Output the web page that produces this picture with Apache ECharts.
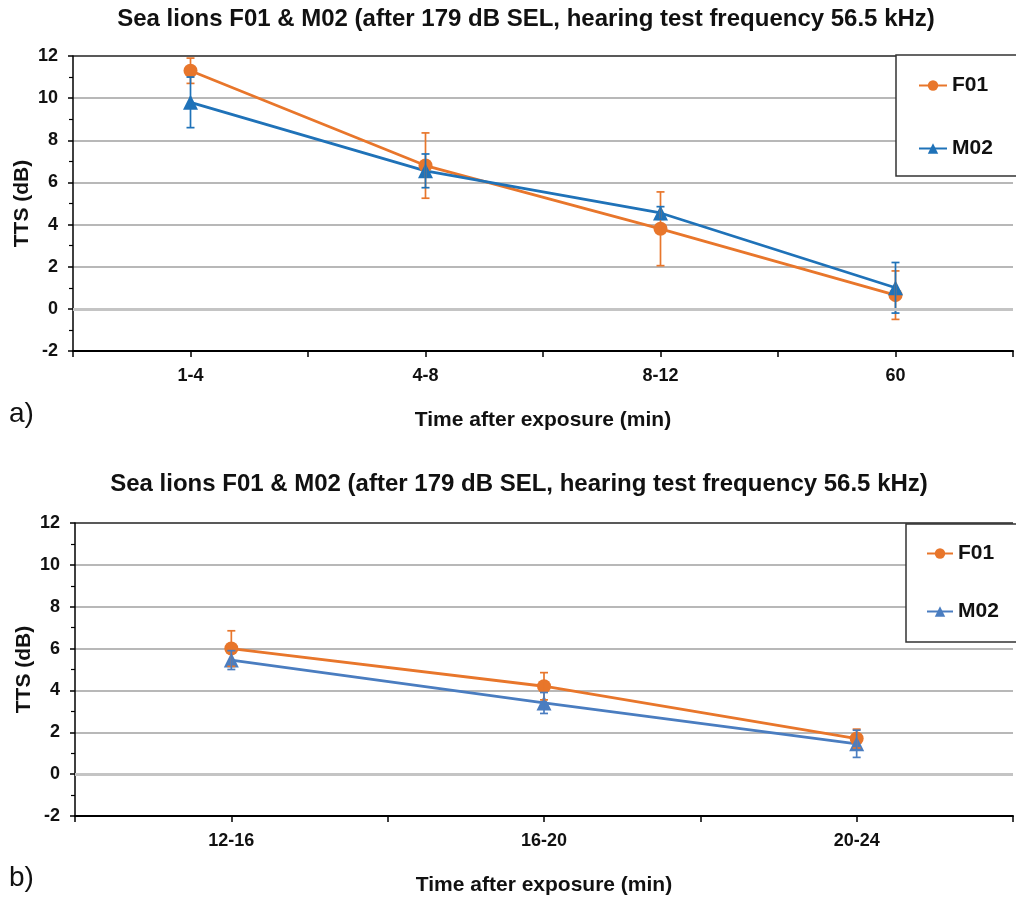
<!DOCTYPE html>
<html>
<head>
<meta charset="utf-8">
<script src="https://cdn.jsdelivr.net/npm/echarts@6/dist/echarts.min.js"></script>
<style>
  html, body { margin: 0; padding: 0; background: #fff; }
  #chart { width: 1016px; height: 897px; }
</style>
</head>
<body>
<div id="chart"></div>
<script>
// panel a
var catsA = ['1-4', '4-8', '8-12', '60'];
var f01A = [11.3, 6.8, 3.8, 0.65];
var f01ErrA = [0.6, 1.55, 1.75, 1.15];
var m02A = [9.8, 6.55, 4.55, 1.0];
var m02ErrA = [1.2, 0.8, 0.3, 1.2];
// panel b
var catsB = ['12-16', '16-20', '20-24'];
var f01B = [6.0, 4.2, 1.7];
var f01ErrB = [0.85, 0.65, 0.45];
var m02B = [5.45, 3.4, 1.45];
var m02ErrB = [0.45, 0.5, 0.65];
var yTicks = [-2, 0, 2, 4, 6, 8, 10, 12];

var orange = '#E8762B';
var blueA = '#1F72B8';
var blueB = '#4A7DC0';
var font = 'Liberation Sans, Arial, sans-serif';
var title = 'Sea lions F01 & M02 (after 179 dB SEL, hearing test frequency 56.5 kHz)';

var chart = echarts.init(document.getElementById('chart'));

function pts(vals) {
  return vals.map(function (v, i) { return [i + 0.5, v]; });
}
function errs(vals, e) {
  return vals.map(function (v, i) { return [i + 0.5, v - e[i], v + e[i]]; });
}
function errorBar(color) {
  return function (params, api) {
    var x = api.value(0);
    var lo = api.coord([x, api.value(1)]);
    var hi = api.coord([x, api.value(2)]);
    var cap = 4;
    var st = { stroke: color, lineWidth: 1.7 };
    return {
      type: 'group',
      children: [
        { type: 'line', shape: { x1: lo[0], y1: lo[1], x2: hi[0], y2: hi[1] }, style: st },
        { type: 'line', shape: { x1: lo[0] - cap, y1: lo[1], x2: lo[0] + cap, y2: lo[1] }, style: st },
        { type: 'line', shape: { x1: hi[0] - cap, y1: hi[1], x2: hi[0] + cap, y2: hi[1] }, style: st }
      ]
    };
  };
}
function xAxis(idx, cats) {
  return {
    type: 'value', gridIndex: idx, min: 0, max: cats.length, interval: 0.5,
    name: 'Time after exposure (min)', nameLocation: 'middle', nameGap: 59,
    nameTextStyle: { fontFamily: font, fontWeight: 'bold', fontSize: 21, color: '#111' },
    axisLine: { show: true, onZero: false, lineStyle: { color: '#000', width: 2 } },
    axisTick: { show: true, length: 6, lineStyle: { color: '#000', width: 1.5 } },
    splitLine: { show: false },
    axisLabel: {
      margin: 16, fontFamily: font, fontWeight: 'bold', fontSize: 18, color: '#111',
      showMinLabel: true, showMaxLabel: true,
      formatter: function (v) {
        var i = Math.floor(v);
        return (Math.abs(v - i - 0.5) < 1e-6) ? cats[i] : '';
      }
    }
  };
}
function yAxis(idx) {
  return {
    type: 'value', gridIndex: idx, min: yTicks[0], max: yTicks[yTicks.length - 1], interval: 2,
    name: 'TTS (dB)', nameLocation: 'middle', nameGap: 40, nameMoveOverlap: false,
    nameTextStyle: { fontFamily: font, fontWeight: 'bold', fontSize: 21, color: '#111' },
    axisLine: { show: true, lineStyle: { color: '#000', width: 1.5 } },
    axisTick: { show: true, length: 5, lineStyle: { color: '#000', width: 1.5 } },
    minorTick: { show: true, splitNumber: 2, length: 4, lineStyle: { color: '#000', width: 1.2 } },
    splitLine: { show: true, lineStyle: { color: ['#999', '#bbb', '#a0a0a0', '#a0a0a0', '#a0a0a0', '#a0a0a0', '#a0a0a0', '#222'], width: 1.5 } },
    axisLabel: { margin: 15, fontFamily: font, fontWeight: 'bold', fontSize: 18, color: '#111' }
  };
}
function lineSeries(name, idx, data, color, symbol, size) {
  return {
    name: name, type: 'line', xAxisIndex: idx, yAxisIndex: idx, data: pts(data),
    symbol: symbol, symbolSize: size, z: 3,
    lineStyle: { color: color, width: 2.8 },
    itemStyle: { color: color }
  };
}
function zeroLine(idx) {
  return {
    type: 'line', xAxisIndex: idx, yAxisIndex: idx, data: [], silent: true,
    markLine: {
      symbol: 'none', silent: true, label: { show: false },
      lineStyle: { color: '#c4c4c4', width: 3, type: 'solid' },
      data: [{ yAxis: 0 }]
    }
  };
}

var option = {
  animation: false,
  grid: [
    { left: 73, top: 56, right: 1, height: 295 },
    { left: 75, top: 523, right: 0, height: 293 }
  ],
  xAxis: [xAxis(0, catsA), xAxis(1, catsB)],
  yAxis: [yAxis(0), yAxis(1)],
  legend: [
    {
      orient: 'vertical', left: 918, top: 75, padding: 0, itemGap: 42, itemWidth: 28, itemHeight: 13,
      textStyle: { fontFamily: font, fontWeight: 'bold', fontSize: 21, color: '#111' },
      data: [
        { name: 'F01', itemStyle: { color: orange }, lineStyle: { color: orange } },
        { name: 'M02', itemStyle: { color: blueA }, lineStyle: { color: blueA } }
      ]
    },
    {
      orient: 'vertical', left: 926, top: 543, padding: 0, itemGap: 37, itemWidth: 26, itemHeight: 13,
      textStyle: { fontFamily: font, fontWeight: 'bold', fontSize: 21, color: '#111' },
      data: [
        { name: 'F01', itemStyle: { color: orange }, lineStyle: { color: orange } },
        { name: 'M02', itemStyle: { color: blueB }, lineStyle: { color: blueB } }
      ]
    }
  ],
  graphic: [
    { type: 'text', x: 526, y: 7, z: 10, style: { text: title, textAlign: 'center', font: 'bold 24px ' + font, fill: '#111' } },
    { type: 'text', x: 519, y: 472, z: 10, style: { text: title, textAlign: 'center', font: 'bold 24px ' + font, fill: '#111' } },
    { type: 'text', x: 9, y: 400, z: 10, style: { text: 'a)', font: '28px ' + font, fill: '#111' } },
    { type: 'text', x: 9, y: 864, z: 10, style: { text: 'b)', font: '28px ' + font, fill: '#111' } },
    { type: 'rect', z: 3, shape: { x: 896, y: 55, width: 130, height: 121 }, style: { fill: '#fff', stroke: '#333', lineWidth: 1.5 } },
    { type: 'rect', z: 3, shape: { x: 906, y: 524, width: 120, height: 118 }, style: { fill: '#fff', stroke: '#333', lineWidth: 1.5 } }
  ],
  series: [
    zeroLine(0),
    zeroLine(1),
    lineSeries('F01', 0, f01A, orange, 'circle', 14),
    lineSeries('M02', 0, m02A, blueA, 'triangle', 15),
    lineSeries('F01', 1, f01B, orange, 'circle', 14),
    lineSeries('M02', 1, m02B, blueB, 'triangle', 15),
    { type: 'custom', xAxisIndex: 0, yAxisIndex: 0, z: 4, silent: true, renderItem: errorBar(orange), data: errs(f01A, f01ErrA), encode: { x: 0, y: [1, 2] } },
    { type: 'custom', xAxisIndex: 0, yAxisIndex: 0, z: 4, silent: true, renderItem: errorBar(blueA), data: errs(m02A, m02ErrA), encode: { x: 0, y: [1, 2] } },
    { type: 'custom', xAxisIndex: 1, yAxisIndex: 1, z: 4, silent: true, renderItem: errorBar(orange), data: errs(f01B, f01ErrB), encode: { x: 0, y: [1, 2] } },
    { type: 'custom', xAxisIndex: 1, yAxisIndex: 1, z: 4, silent: true, renderItem: errorBar(blueB), data: errs(m02B, m02ErrB), encode: { x: 0, y: [1, 2] } }
  ]
};
chart.setOption(option);
</script>
</body>
</html>
